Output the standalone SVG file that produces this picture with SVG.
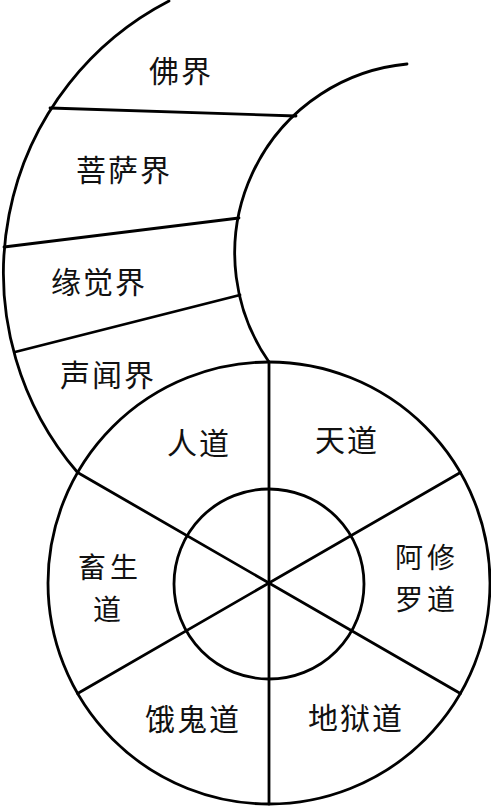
<svg xmlns="http://www.w3.org/2000/svg" width="491" height="806" viewBox="0 0 491 806">
<style>
.ln{fill:none;stroke:#000;stroke-width:2.8;stroke-linecap:round}
.t{font-family:"Noto Sans CJK SC","Noto Sans",sans-serif;font-size:30px;fill:#111;text-anchor:middle;dominant-baseline:central;letter-spacing:2px}
.s{font-size:28px;letter-spacing:4px}
</style>
<rect width="491" height="806" fill="#fff"/>
<g id="connectors">
<path class="ln" d="M169,1 A306,306 0 0 0 77.6,472.5"/>
<path class="ln" d="M407,64 A190,190 0 0 0 269,362"/>
<line class="ln" x1="50" y1="108" x2="296" y2="116"/>
<line class="ln" x1="4" y1="247" x2="239" y2="218"/>
<line class="ln" x1="15" y1="352" x2="240" y2="295"/>
<circle class="ln" cx="269" cy="583" r="221"/>
<circle class="ln" cx="269" cy="584" r="95"/>
<line class="ln" x1="269" y1="362" x2="269" y2="804"/>
<line class="ln" x1="77.6" y1="472.5" x2="460.4" y2="693.5"/>
<line class="ln" x1="77.6" y1="693.5" x2="460.4" y2="472.5"/>
</g>
<g id="fojie"><text class="t" x="181" y="69">佛界</text></g>
<g id="pusajie"><text class="t" x="124" y="168">菩萨界</text></g>
<g id="yuanjuejie"><text class="t" x="99" y="280">缘觉界</text></g>
<g id="shengwenjie"><text class="t" x="108" y="373">声闻界</text></g>
<g id="rendao"><text class="t" x="199" y="441">人道</text></g>
<g id="tiandao"><text class="t" x="347" y="438">天道</text></g>
<g id="axiuluodao"><text class="t s" x="427" y="556">阿修</text><text class="t s" x="427" y="598">罗道</text></g>
<g id="chushengdao"><text class="t s" x="110" y="566">畜生</text><text class="t s" x="109" y="608">道</text></g>
<g id="eguidao"><text class="t" x="193" y="717">饿鬼道</text></g>
<g id="diyudao"><text class="t" x="356" y="716">地狱道</text></g>
</svg>
